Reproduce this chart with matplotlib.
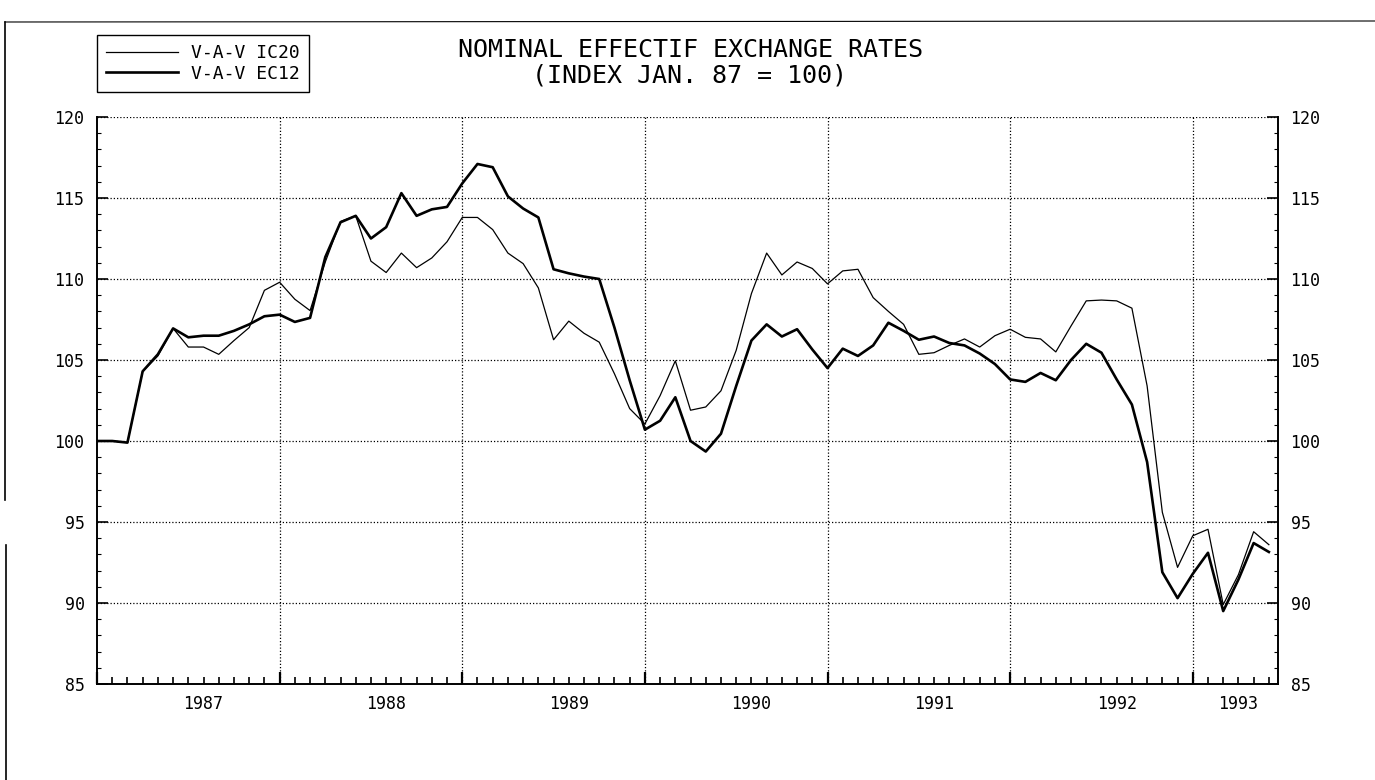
import matplotlib
matplotlib.use("Agg")
import matplotlib.pyplot as plt
from matplotlib.lines import Line2D
from matplotlib.ticker import MultipleLocator, FixedLocator, NullFormatter

plt.rcParams['font.family'] = ['DejaVu Sans Mono', 'DejaVu Sans']

# Monthly index, Jan 1987 = month 0 ... Jun 1993 = month 77
months = list(range(78))

ec12 = [100.0, 100.0, 99.9, 104.3, 105.35, 106.95, 106.4, 106.5, 106.5, 106.8,
        107.2, 107.7, 107.8, 107.35, 107.6, 111.35, 113.5, 113.9, 112.5, 113.2,
        115.3, 113.9, 114.3, 114.45, 115.9, 117.1, 116.9, 115.1, 114.35, 113.8,
        110.6, 110.35, 110.15, 110.0, 107.0, 103.75, 100.7, 101.25, 102.7, 100.0,
        99.35, 100.45, 103.4, 106.2, 107.2, 106.45, 106.9, 105.65, 104.5, 105.7,
        105.25, 105.9, 107.3, 106.8, 106.25, 106.45, 106.05, 105.9, 105.4, 104.75,
        103.8, 103.65, 104.2, 103.75, 105.0, 106.0, 105.45, 103.8, 102.25, 98.7,
        91.9, 90.3, 91.8, 93.1, 89.5, 91.45, 93.7, 93.15]

ic20 = [100.0, 100.0, 99.9, 104.3, 105.25, 106.95, 105.8, 105.8, 105.35, 106.2,
        107.0, 109.3, 109.8, 108.75, 108.05, 111.05, 113.55, 113.9, 111.1, 110.4,
        111.6, 110.7, 111.3, 112.3, 113.8, 113.8, 113.05, 111.6, 110.95, 109.45,
        106.25, 107.4, 106.65, 106.1, 104.15, 102.0, 101.05, 102.8, 104.95, 101.9,
        102.1, 103.1, 105.6, 109.1, 111.6, 110.25, 111.05, 110.65, 109.7, 110.5,
        110.6, 108.85, 108.0, 107.2, 105.35, 105.45, 105.9, 106.3, 105.8, 106.5,
        106.9, 106.4, 106.3, 105.5, 107.1, 108.65, 108.7, 108.65, 108.2, 103.4,
        95.6, 92.2, 94.15, 94.55, 89.9, 91.75, 94.4, 93.6]

series_labels = ['V-A-V IC20', 'V-A-V EC12']
year_labels = ['1987', '1988', '1989', '1990', '1991', '1992', '1993']
year_label_pos = [7, 19, 31, 43, 55, 67, 75]
year_starts = [0, 12, 24, 36, 48, 60, 72]
y_ticks = [85, 90, 95, 100, 105, 110, 115, 120]

title_line1 = 'NOMINAL EFFECTIF EXCHANGE RATES'
title_line2 = '(INDEX JAN. 87 = 100)'

W, H = 1375, 780
fig = plt.figure(figsize=(W / 100, H / 100), dpi=100)
fig.patch.set_facecolor('white')

L, R, T, B = 97, 1278, 117, 684
ax = fig.add_axes([L / W, 1 - B / H, (R - L) / W, (B - T) / H])

# grid (dotted)
for yv in y_ticks[1:]:
    ax.axhline(yv, color='black', lw=0.9, ls=(0, (1, 1.6)), zorder=1)
for xv in year_starts[1:]:
    ax.axvline(xv, color='black', lw=0.9, ls=(0, (1, 1.6)), zorder=1)

ax.plot(months, ic20, color='black', lw=0.9, label=series_labels[0], zorder=3)
ax.plot(months, ec12, color='black', lw=1.9, label=series_labels[1], zorder=3)

ax.set_xlim(0, 77.6)
ax.set_ylim(85, 120)

for side in ['left', 'right', 'bottom']:
    ax.spines[side].set_linewidth(1.4)
ax.spines['top'].set_visible(False)

ax.set_yticks(y_ticks)
ax.yaxis.set_minor_locator(MultipleLocator(1))
ax.tick_params(axis='y', which='major', direction='in', length=8, width=1.2,
               left=True, right=True, labelleft=True, labelright=True,
               labelsize=12, pad=9)
ax.tick_params(axis='y', which='minor', direction='in', length=3, width=0.8,
               left=True, right=True)

ax.xaxis.set_major_locator(FixedLocator(year_starts))
ax.xaxis.set_minor_locator(FixedLocator(months))
ax.xaxis.set_major_formatter(NullFormatter())
ax.tick_params(axis='x', which='major', direction='in', length=9, width=1.6,
               bottom=True, top=False)
ax.tick_params(axis='x', which='minor', direction='in', length=5, width=1.2,
               bottom=True, top=False)

xt = ax.get_xaxis_transform()
for pos, lab in zip(year_label_pos, year_labels):
    ax.text(pos, -0.036, lab, transform=xt, ha='center', va='center', fontsize=12)

# title
fig.text(690 / W, 1 - 50 / H, title_line1, ha='center', va='center', fontsize=18)
fig.text(690 / W, 1 - 75 / H, title_line2, ha='center', va='center', fontsize=18)

# legend box
leg = ax.legend(loc='upper left', bbox_to_anchor=(L / W, 1 - 35 / H),
                bbox_transform=fig.transFigure, fontsize=13, frameon=True,
                fancybox=False, edgecolor='black', framealpha=1,
                handlelength=4.0, handletextpad=0.7, labelspacing=0.15,
                borderpad=0.5, borderaxespad=0)
leg.get_frame().set_linewidth(1.0)

# page frame lines of the scan
fig.add_artist(Line2D([5 / W, 1.0], [1 - 22 / H, 1 - 21 / H],
                      transform=fig.transFigure, color='black', lw=0.8))
fig.add_artist(Line2D([5 / W, 5 / W], [1 - 22 / H, 1 - 500 / H],
                      transform=fig.transFigure, color='black', lw=1.2))
fig.add_artist(Line2D([6 / W, 6 / W], [1 - 545 / H, 0.0],
                      transform=fig.transFigure, color='black', lw=1.2))

fig.savefig('out.png', dpi=100, facecolor='white')
